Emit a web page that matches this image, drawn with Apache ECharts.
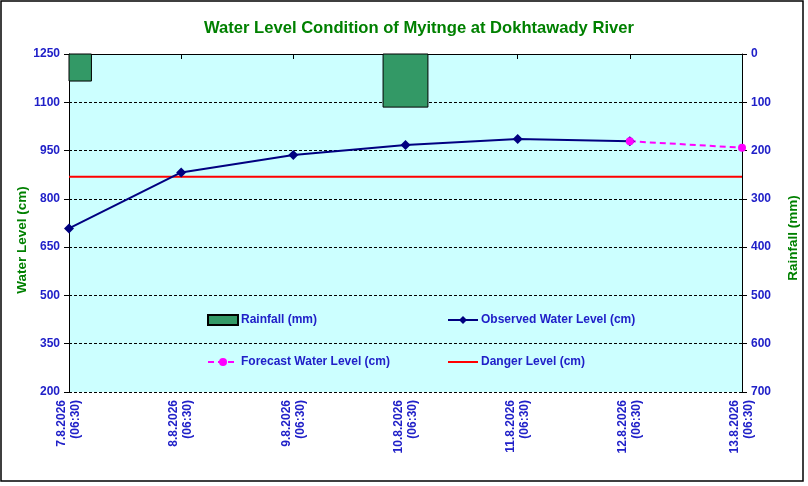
<!DOCTYPE html>
<html>
<head>
<meta charset="utf-8">
<script src="https://cdn.jsdelivr.net/npm/echarts@6/dist/echarts.min.js"></script>
<style>
    html, body { margin: 0; padding: 0; background: #fff; }
    #main { width: 808px; height: 486px; }
</style>
</head>
<body>
<div id="main"></div>
<script>
// 数据
var dates = ['7.8.2026\n(06:30)', '8.8.2026\n(06:30)', '9.8.2026\n(06:30)', '10.8.2026\n(06:30)',
    '11.8.2026\n(06:30)', '12.8.2026\n(06:30)', '13.8.2026\n(06:30)'];
var rainfall = [56, 0, 0, 110, 0, 0, 0];
var observed = [708, 882, 936, 967, 986, 979, null];
var forecast = [null, null, null, null, null, 979, 959];
var danger = [869, 869, 869, 869, 869, 869, 869];

var blue = '#2020c8';
var green = '#008000';
var font = 'Liberation Sans, Arial, sans-serif';

var myChart = echarts.init(document.getElementById('main'));

// 雨量柱子：居中在刻度上，超出绘图区的部分裁掉
function renderRain(params, api) {
    var v = api.value(1);
    if (!v) {
        return null;
    }
    var p0 = api.coord([api.value(0), 0]);
    var p1 = api.coord([api.value(0), v]);
    var w = api.size([1, 0])[0] * 0.4;
    var rect = echarts.graphic.clipRectByRect({
        x: p0[0] - w / 2,
        y: p0[1],
        width: w,
        height: p1[1] - p0[1]
    }, {
        x: params.coordSys.x,
        y: params.coordSys.y,
        width: params.coordSys.width,
        height: params.coordSys.height
    });
    return rect && {
        type: 'rect',
        shape: rect,
        style: { fill: '#339966', stroke: '#000', lineWidth: 1 }
    };
}

var legendText = {
    color: blue, fontSize: 12, fontWeight: 'bold', fontFamily: font,
    padding: [0, 0, 0, -2]
};

var option = {
    backgroundColor: '#fff',
    animation: false,
    title: {
        text: 'Water Level Condition of Myitnge at Dokhtawady River',
        left: 199,
        top: 15,
        textStyle: {
            color: green,
            fontSize: 16.6,
            fontWeight: 'bold',
            fontFamily: font
        }
    },
    graphic: [{
        type: 'rect',
        shape: { x: 1, y: 1, width: 802, height: 480 },
        style: { fill: null, stroke: '#000', lineWidth: 1.5 },
        silent: true
    }],
    legend: [{
        orient: 'vertical',
        left: 207,
        top: 314,
        padding: 0,
        itemGap: 30,
        itemWidth: 30,
        itemHeight: 10,
        data: [{ name: 'Rainfall (mm)', icon: 'rect' }, 'Forecast Water Level (cm)'],
        textStyle: legendText
    }, {
        orient: 'vertical',
        left: 447,
        top: 314,
        padding: 0,
        itemGap: 30,
        itemWidth: 30,
        itemHeight: 10,
        data: ['Observed Water Level (cm)', { name: 'Danger Level (cm)', itemStyle: { opacity: 0 } }],
        textStyle: legendText
    }],
    grid: {
        left: 69,
        top: 54,
        width: 676,
        height: 338,
        show: true,
        backgroundColor: '#ccffff',
        borderWidth: 0
    },
    xAxis: {
        type: 'category',
        data: dates,
        boundaryGap: false,
        axisLine: { lineStyle: { color: '#000', width: 1 } },
        axisTick: { show: true, length: 5, lineStyle: { color: '#000' } },
        axisLabel: {
            rotate: 90,
            interval: 0,
            margin: 8,
            color: blue,
            fontSize: 12,
            fontWeight: 'bold',
            fontFamily: font,
            lineHeight: 14
        },
        splitLine: { show: false }
    },
    yAxis: [{
        type: 'value',
        min: 200,
        max: 1250,
        interval: 150,
        name: 'Water Level (cm)',
        nameLocation: 'middle',
        nameGap: 40,
        nameMoveOverlap: false,
        nameTextStyle: {
            color: green, fontSize: 13.5, fontWeight: 'bold', fontFamily: font,
            padding: [0, 34, 0, 0]
        },
        axisLine: { show: true, lineStyle: { color: '#000' } },
        axisTick: { show: true, length: 5, lineStyle: { color: '#000' } },
        axisLabel: {
            color: blue, fontSize: 12, fontWeight: 'bold', fontFamily: font, margin: 9,
            formatter: function(v) { return String(v); }
        },
        splitLine: { show: true, lineStyle: { color: '#000', type: [3, 2], width: 1 } }
    }, {
        type: 'value',
        min: 0,
        max: 700,
        interval: 100,
        inverse: true,
        position: 'right',
        name: 'Rainfall (mm)',
        nameLocation: 'middle',
        nameGap: 44,
        nameRotate: 90,
        nameTextStyle: {
            color: green, fontSize: 13.5, fontWeight: 'bold', fontFamily: font,
            padding: [0, 30, 0, 0]
        },
        axisLine: { show: true, lineStyle: { color: '#000' } },
        axisTick: { show: true, length: 5, lineStyle: { color: '#000' } },
        axisLabel: { color: blue, fontSize: 12, fontWeight: 'bold', fontFamily: font, margin: 9 },
        splitLine: { show: false }
    }],
    series: [{
        name: 'Rainfall (mm)',
        type: 'custom',
        yAxisIndex: 1,
        renderItem: renderRain,
        data: rainfall.map(function(v, i) { return [i, v]; }),
        itemStyle: { color: '#339966', borderColor: '#000', borderWidth: 1 }
    }, {
        name: 'Danger Level (cm)',
        type: 'line',
        data: danger,
        symbol: 'none',
        lineStyle: { color: '#ff0000', width: 2 },
        itemStyle: { color: '#ff0000' }
    }, {
        name: 'Observed Water Level (cm)',
        type: 'line',
        data: observed,
        symbol: 'diamond',
        symbolSize: 10,
        lineStyle: { color: '#000080', width: 2 },
        itemStyle: { color: '#000080' }
    }, {
        name: 'Forecast Water Level (cm)',
        type: 'line',
        data: forecast,
        symbol: 'circle',
        symbolSize: 8,
        lineStyle: { color: '#ff00ff', width: 2, type: [6, 4] },
        itemStyle: { color: '#ff00ff' }
    }]
};
myChart.setOption(option);
</script>
</body>
</html>
